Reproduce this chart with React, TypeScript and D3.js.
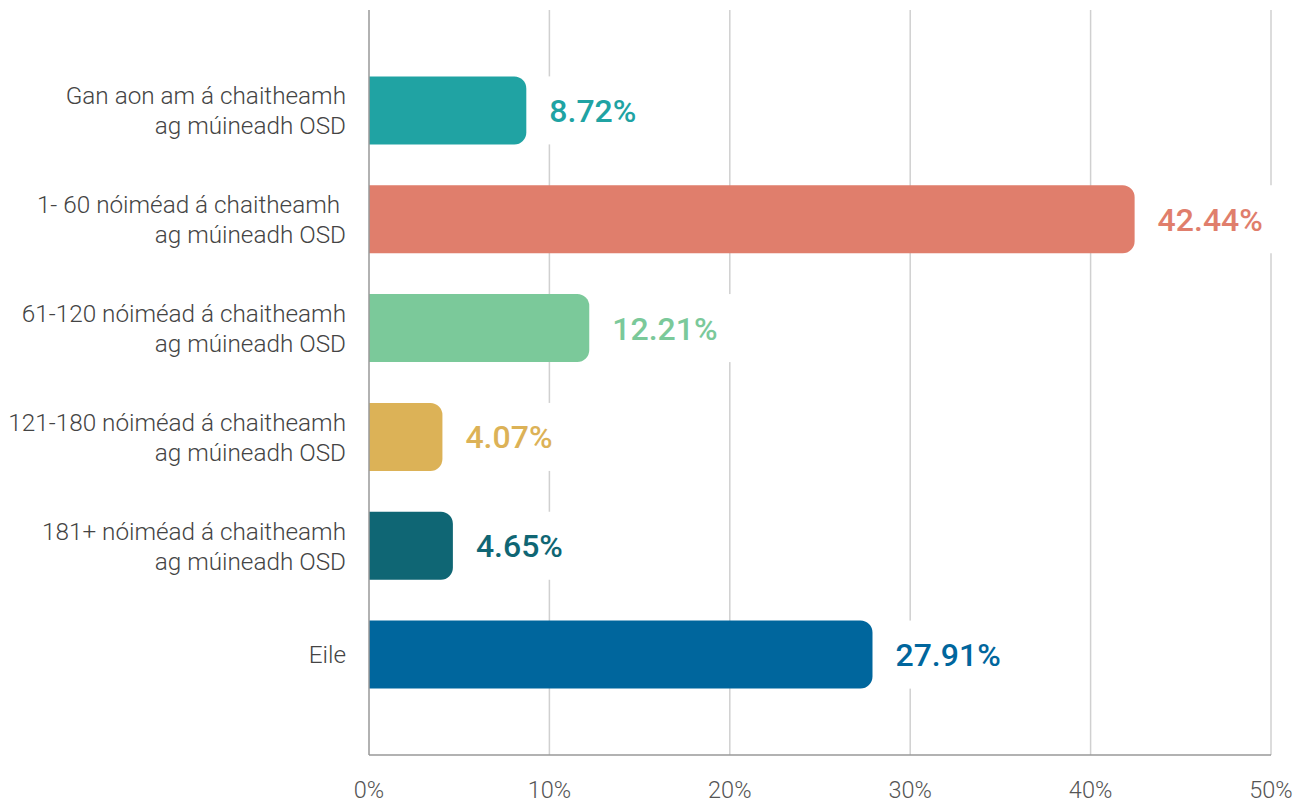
import React from "react";
import * as d3 from "d3";

const categories: string[][] = [
  ["Gan aon am á chaitheamh", "ag múineadh OSD"],
  ["1- 60 nóiméad á chaitheamh ", "ag múineadh OSD"],
  ["61-120 nóiméad á chaitheamh", "ag múineadh OSD"],
  ["121-180 nóiméad á chaitheamh", "ag múineadh OSD"],
  ["181+ nóiméad á chaitheamh", "ag múineadh OSD"],
  ["Eile"],
];
const values: number[] = [8.72, 42.44, 12.21, 4.07, 4.65, 27.91];
const colors: string[] = ["#20a3a3", "#e07e6c", "#7bc99a", "#dcb257", "#0f6674", "#00669d"];
const ticks: number[] = [0, 10, 20, 30, 40, 50];

const W = 1298;
const H = 804;
const left = 369;
const right = 1271;
const top = 10;
const bottom = 755;

export default function App() {
  const x = d3.scaleLinear().domain([0, 50]).range([left, right]);
  const y = d3
    .scaleBand<number>()
    .domain(values.map((_, i) => i))
    .range([top, bottom])
    .paddingInner(0.375)
    .paddingOuter(0.61);
  const bh = y.bandwidth();
  const r = 12;
  const barPath = (x0: number, x1: number, y0: number, h: number) => {
    const rr = Math.min(r, (x1 - x0) / 2);
    return `M${x0},${y0}H${x1 - rr}A${rr},${rr} 0 0 1 ${x1},${y0 + rr}V${y0 + h - rr}A${rr},${rr} 0 0 1 ${x1 - rr},${y0 + h}H${x0}Z`;
  };
  const font = "Roboto, 'Noto Sans', sans-serif";
  return (
    <svg width={W} height={H} style={{ position: "absolute", left: 0, top: 0, background: "#fff" }}>
      {ticks.slice(1).map((t) => (
        <line key={t} x1={x(t)} x2={x(t)} y1={top} y2={bottom} stroke="#d0d0d0" strokeWidth={1.5} />
      ))}
      {values.map((v, i) => {
        const y0 = y(i)!;
        const x1 = x(v);
        const label = v.toFixed(2) + "%";
        const tw = label.length * 17.5;
        return (
          <g key={i}>
            <rect x={x1 + 8} y={y0} width={tw + 30} height={bh} fill="#fff" />
            <path d={barPath(x(0), x1, y0, bh)} fill={colors[i]} />
            <text
              x={x1 + 23}
              y={y0 + bh / 2}
              dy="0.36em"
              fill={colors[i]}
              fontFamily={font}
              fontWeight={500}
              fontSize={32}
            >
              {label}
            </text>
          </g>
        );
      })}
      <line x1={left} x2={left} y1={top} y2={bottom} stroke="#999" strokeWidth={1.5} />
      <line x1={left} x2={right} y1={bottom} y2={bottom} stroke="#999" strokeWidth={1.5} />
      {categories.map((lines, i) => {
        const cy = y(i)! + bh / 2;
        const lh = 30;
        const start = cy - ((lines.length - 1) * lh) / 2;
        return (
          <text
            key={i}
            textAnchor="end"
            fill="#444"
            fontFamily={font}
            fontWeight={300}
            fontSize={24.3}
            style={{ whiteSpace: "pre" }}
          >
            {lines.map((l, j) => (
              <tspan key={j} x={346} y={start + j * lh} dy="0.36em">
                {l}
              </tspan>
            ))}
          </text>
        );
      })}
      {ticks.map((t) => (
        <text
          key={t}
          x={x(t)}
          y={798}
          textAnchor="middle"
          fill="#555"
          fontFamily={font}
          fontWeight={300}
          fontSize={23.5}
        >
          {t + "%"}
        </text>
      ))}
    </svg>
  );
}
